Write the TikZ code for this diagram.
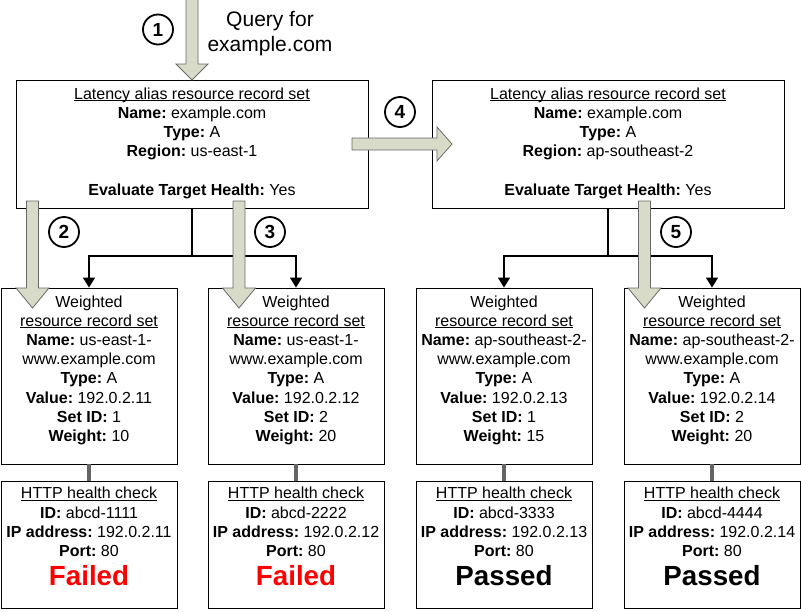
\documentclass[tikz,border=0pt]{standalone}
\usepackage{fontspec}
\setmainfont{Liberation Sans}
\usetikzlibrary{arrows.meta}
\definecolor{blkfill}{RGB}{216,219,200}
\definecolor{blkline}{RGB}{105,105,105}
\definecolor{linkgray}{RGB}{100,100,100}
\frenchspacing
\newcommand\ulx[1]{\setbox0\hbox{#1}\rlap{\rule[-1.8pt]{\wd0}{0.9pt}}\box0}
\newcommand\downblk[5]{\draw[blk] (#1-6,#2) -- (#1+6,#2) -- (#1+6,#3) -- (#1+#5,#3) -- (#1,#4) -- (#1-#5,#3) -- (#1-6,#3) -- cycle;}
\tikzset{
  latbox/.style={draw, line width=0.9pt, minimum width=352pt, minimum height=128pt, inner sep=0},
  wbox/.style={draw, line width=0.9pt, minimum width=176pt, minimum height=176pt, inner sep=0},
  hbox/.style={draw, line width=0.9pt, minimum width=176pt, minimum height=127pt, inner sep=0},
  txt/.style={font=\fontsize{16}{19.2}\selectfont, align=center, inner sep=0, anchor=north},
  status/.style={font=\fontsize{27.7}{30}\bfseries\selectfont, inner sep=0, anchor=base},
  blk/.style={draw=blkline, fill=blkfill, line width=0.8pt, line join=miter},
  tree/.style={line width=1.5pt},
  treearr/.style={line width=1.5pt, -{Triangle[width=12pt,length=10pt]}},
  hlink/.style={draw=linkgray, line width=3.8pt},
  num/.style={circle, draw, line width=1.8pt, minimum size=30pt, inner sep=0, font=\fontsize{19}{19}\bfseries\selectfont},
}
\begin{document}
\begin{tikzpicture}[x=1pt,y=-1pt]
\useasboundingbox (0,0) rectangle (801,611);
% latency boxes
\node[latbox] (b1) at (192,144) {};
\node[latbox] (b2) at (608,144) {};
% weighted boxes
\node[wbox] (w1) at (89,376) {};
\node[wbox] (w2) at (296,376) {};
\node[wbox] (w3) at (504,376) {};
\node[wbox] (w4) at (712,376) {};
% health boxes
\node[hbox] (h1) at (89,544.5) {};
\node[hbox] (h2) at (296,544.5) {};
\node[hbox] (h3) at (504,544.5) {};
\node[hbox] (h4) at (712,544.5) {};
% tree connectors
\coordinate (j1) at (192,256);
\coordinate (j2) at (608,256);
\draw[tree] (b1.south) -- (j1);
\draw[treearr] (j1) -| (w1.north);
\draw[treearr] (j1) -| (w2.north);
\draw[tree] (b2.south) -- (j2);
\draw[treearr] (j2) -| (w3.north);
\draw[treearr] (j2) -| (w4.north);
% health links
\draw[hlink] (w1.south) -- (h1.north);
\draw[hlink] (w2.south) -- (h2.north);
\draw[hlink] (w3.south) -- (h3.north);
\draw[hlink] (w4.south) -- (h4.north);
% block arrows
\downblk{192}{-3}{64}{80}{16}
\downblk{32.5}{201}{288}{308}{16.5}
\downblk{239}{201}{288}{308}{16.5}
\downblk{644.5}{201}{288}{308}{16.5}
\draw[blk] (352,138) -- (437,138) -- (437,127) -- (452,144) -- (437,161) -- (437,150) -- (352,150) -- cycle;
% numbered circles
\node[num] (n1) at (158,29.5) {1};
\node[num] (n2) at (64,232) {2};
\node[num] (n3) at (270,232) {3};
\node[num] (n4) at (400,112) {4};
\node[num] (n5) at (676,232) {5};
% query text
\node[font=\fontsize{21}{25}\selectfont, align=center, inner sep=0, anchor=north] (q) at (270,11.5) {Query for\\example.com};
% latency texts
\node[txt] (t1) at (192,87.3) {\ulx{Latency alias resource record set}\\
\textbf{Name:} example.com\\
\textbf{Type:} A\\
\textbf{Region:} us-east-1\\[19.2pt]
\textbf{Evaluate Target Health:} Yes};
\node[txt] (t2) at (608,87.3) {\ulx{Latency alias resource record set}\\
\textbf{Name:} example.com\\
\textbf{Type:} A\\
\textbf{Region:} ap-southeast-2\\[19.2pt]
\textbf{Evaluate Target Health:} Yes};
% weighted texts
\node[txt] (tw1) at (89,295.3) {Weighted\\\ulx{resource record set}\\
\textbf{Name:} us-east-1-\\www.example.com\\
\textbf{Type:} A\\\textbf{Value:} 192.0.2.11\\\textbf{Set ID:} 1\\\textbf{Weight:} 10};
\node[txt] (tw2) at (296,295.3) {Weighted\\\ulx{resource record set}\\
\textbf{Name:} us-east-1-\\www.example.com\\
\textbf{Type:} A\\\textbf{Value:} 192.0.2.12\\\textbf{Set ID:} 2\\\textbf{Weight:} 20};
\node[txt] (tw3) at (504,295.3) {Weighted\\\ulx{resource record set}\\
\textbf{Name:} ap-southeast-2-\\www.example.com\\
\textbf{Type:} A\\\textbf{Value:} 192.0.2.13\\\textbf{Set ID:} 1\\\textbf{Weight:} 15};
\node[txt] (tw4) at (712,295.3) {Weighted\\\ulx{resource record set}\\
\textbf{Name:} ap-southeast-2-\\www.example.com\\
\textbf{Type:} A\\\textbf{Value:} 192.0.2.14\\\textbf{Set ID:} 2\\\textbf{Weight:} 20};
% health texts
\node[txt] (th1) at (89,487) {\ulx{HTTP health check}\\\textbf{ID:} abcd-1111\\\textbf{IP address:} 192.0.2.11\\\textbf{Port:} 80};
\node[txt] (th2) at (296,487) {\ulx{HTTP health check}\\\textbf{ID:} abcd-2222\\\textbf{IP address:} 192.0.2.12\\\textbf{Port:} 80};
\node[txt] (th3) at (504,487) {\ulx{HTTP health check}\\\textbf{ID:} abcd-3333\\\textbf{IP address:} 192.0.2.13\\\textbf{Port:} 80};
\node[txt] (th4) at (712,487) {\ulx{HTTP health check}\\\textbf{ID:} abcd-4444\\\textbf{IP address:} 192.0.2.14\\\textbf{Port:} 80};
% statuses
\node[status, text=red] (s1) at (89,585) {Failed};
\node[status, text=red] (s2) at (296,585) {Failed};
\node[status] (s3) at (504,585) {Passed};
\node[status] (s4) at (712,585) {Passed};
\end{tikzpicture}
\end{document}
